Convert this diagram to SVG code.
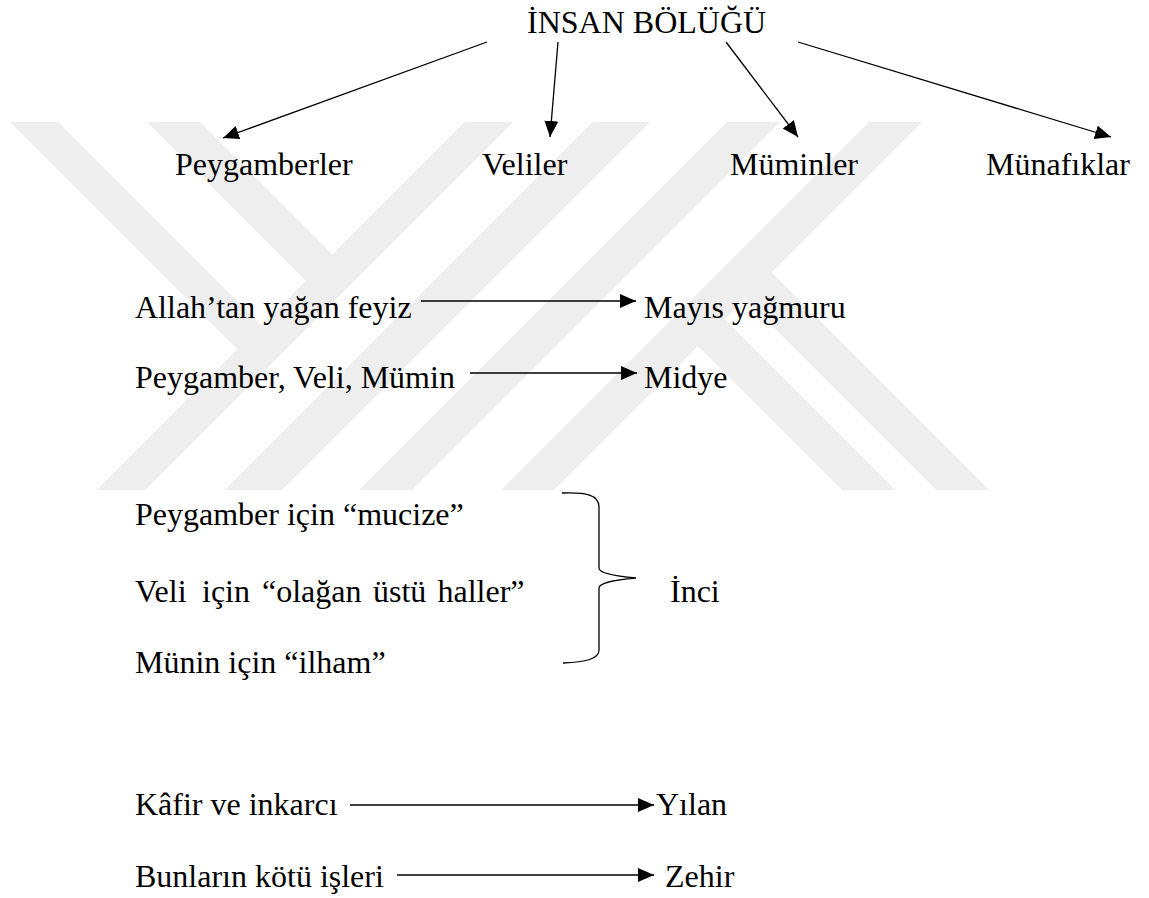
<svg xmlns="http://www.w3.org/2000/svg" width="1149" height="898" viewBox="0 0 1149 898">
<style>
.t{font-family:"Liberation Serif","Times New Roman",serif;font-size:32px;fill:#000}
.wm{fill:#eeeeee;stroke:none}
.c{stroke:#000;stroke-width:1.3;fill:none}
</style>
<defs>
<marker id="ah" markerUnits="userSpaceOnUse" markerWidth="18" markerHeight="16" refX="16" refY="7" orient="auto">
<path d="M0,0 L16,7 L0,14 Z" fill="#000"/>
</marker>
</defs>
<rect width="1149" height="898" fill="#fff"/>
<g id="watermark">
<polygon class="wm" points="10,122 58,122 264,328 240,352"/>
<polygon class="wm" points="147,122 200,122 335,257 308.5,283.5"/>
<polygon class="wm" points="465,122 513,122 145,490 97,490"/>
<polygon class="wm" points="593,122 650,122 282,490 225,490"/>
<polygon class="wm" points="727,122 780,122 412,490 359,490"/>
<polygon class="wm" points="869,122 922,122 554,490 501,490"/>
<polygon class="wm" points="694.5,342.5 721,316 895,490 842,490"/>
<polygon class="wm" points="741.5,295.5 768,269 989,490 936,490"/>
</g>
<g id="connectors">
<line class="c" x1="487" y1="42" x2="223" y2="138" marker-end="url(#ah)"/>
<line class="c" x1="558" y1="42" x2="550" y2="137" marker-end="url(#ah)"/>
<line class="c" x1="726" y1="42" x2="798" y2="137" marker-end="url(#ah)"/>
<line class="c" x1="798" y1="42" x2="1111" y2="137" marker-end="url(#ah)"/>
<line class="c" x1="421" y1="301" x2="636" y2="301" marker-end="url(#ah)"/>
<line class="c" x1="470" y1="373" x2="637" y2="373" marker-end="url(#ah)"/>
<line class="c" x1="350" y1="805" x2="654" y2="805" marker-end="url(#ah)"/>
<line class="c" x1="397" y1="875" x2="654" y2="875" marker-end="url(#ah)"/>
<path id="brace" class="c" d="M562,493 C586,492 599,495 599,507 L599,568 C599,573 614,576 636,578 C614,580 599,583 599,588 L599,650 C599,659 586,662 563,663"/>
</g>
<g id="n-title"><text class="t" x="527" y="33">İNSAN BÖLÜĞÜ</text></g>
<g id="n-peygamberler"><text class="t" x="175" y="175">Peygamberler</text></g>
<g id="n-veliler"><text class="t" x="482" y="175">Veliler</text></g>
<g id="n-muminler"><text class="t" x="730" y="175">Müminler</text></g>
<g id="n-munafiklar"><text class="t" x="986" y="175">Münafıklar</text></g>
<g id="n-feyiz"><text class="t" x="135" y="318">Allah’tan yağan feyiz</text></g>
<g id="n-mayis"><text class="t" x="644" y="318">Mayıs yağmuru</text></g>
<g id="n-pvm"><text class="t" x="135" y="388">Peygamber, Veli, Mümin</text></g>
<g id="n-midye"><text class="t" x="644" y="388">Midye</text></g>
<g id="n-mucize"><text class="t" x="135" y="525">Peygamber için “mucize”</text></g>
<g id="n-haller"><text class="t" y="602"><tspan x="135">Veli</tspan><tspan x="202">için</tspan><tspan x="262">“olağan</tspan><tspan x="373">üstü</tspan><tspan x="437.5">haller”</tspan></text></g>
<g id="n-ilham"><text class="t" x="135" y="673">Münin için “ilham”</text></g>
<g id="n-inci"><text class="t" x="670" y="602">İnci</text></g>
<g id="n-kafir"><text class="t" x="135" y="815">Kâfir ve inkarcı</text></g>
<g id="n-yilan"><text class="t" x="656" y="815">Yılan</text></g>
<g id="n-isler"><text class="t" x="135" y="887">Bunların kötü işleri</text></g>
<g id="n-zehir"><text class="t" x="665" y="887">Zehir</text></g>
</svg>
